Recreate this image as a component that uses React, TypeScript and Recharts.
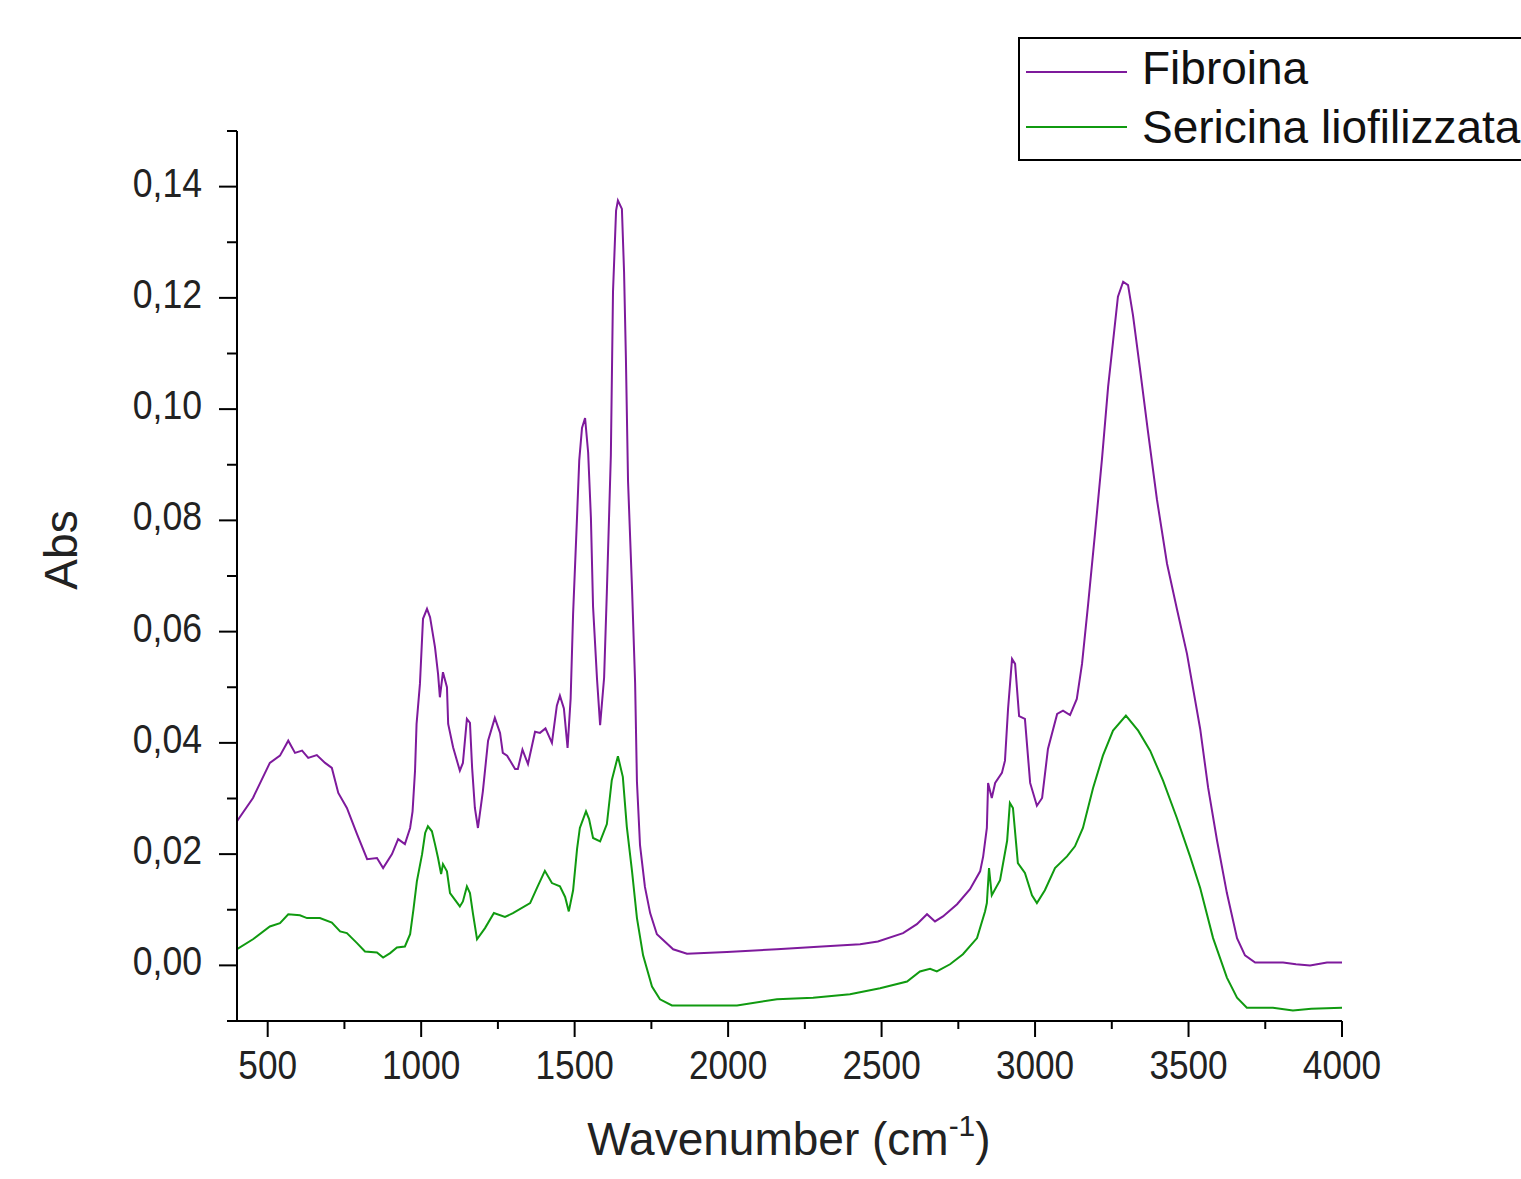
import React from 'react';
import { LineChart, Line, XAxis, YAxis, Legend } from 'recharts';

// FTIR spectra
const fibroinaX = [
  400, 452, 507, 540, 567, 589, 612, 632, 660, 687, 709, 730, 758, 791, 824, 856, 876, 905, 925, 947,
  964, 972, 980, 985, 996, 1006, 1019, 1029, 1045, 1055, 1061, 1071, 1084, 1088, 1104, 1126, 1136, 1149,
  1159, 1166, 1175, 1185, 1201, 1218, 1240, 1257, 1266, 1280, 1306, 1315, 1330, 1348, 1371, 1387, 1405,
  1426, 1442, 1452, 1465, 1477, 1487, 1495, 1507, 1515, 1524, 1534, 1544, 1553, 1560, 1573, 1583, 1596,
  1605, 1618, 1625, 1635, 1641, 1654, 1661, 1667, 1674, 1687, 1697, 1703, 1713, 1729, 1746, 1768, 1821,
  1866, 1996, 2159, 2306, 2430, 2488, 2570, 2615, 2648, 2674, 2700, 2746, 2788, 2821, 2831, 2843, 2847,
  2859, 2870, 2892, 2902, 2912, 2925, 2935, 2948, 2967, 2984, 3006, 3023, 3042, 3072, 3091, 3114, 3136,
  3153, 3173, 3195, 3218, 3238, 3254, 3270, 3287, 3303, 3319, 3342, 3368, 3397, 3430, 3462, 3495, 3515,
  3538, 3564, 3593, 3625, 3658, 3684, 3717, 3808, 3850, 3896, 3951, 4000,
];
const fibroinaY = [
  0.0259, 0.0301, 0.0364, 0.0377, 0.0404, 0.0382, 0.0386, 0.0373, 0.0378, 0.0364, 0.0355, 0.031, 0.0283,
  0.0236, 0.0191, 0.0193, 0.0175, 0.02, 0.0227, 0.0218, 0.0247, 0.0277, 0.035, 0.0434, 0.0506, 0.0623,
  0.0641, 0.0626, 0.0572, 0.0524, 0.0482, 0.0527, 0.05, 0.0434, 0.0392, 0.035, 0.0364, 0.0443, 0.0436,
  0.0355, 0.0283, 0.0247, 0.0313, 0.0404, 0.0445, 0.0418, 0.0382, 0.0377, 0.0353, 0.0353, 0.0388, 0.0362,
  0.042, 0.0418, 0.0426, 0.04, 0.0467, 0.0485, 0.0462, 0.0391, 0.048, 0.0632, 0.0795, 0.0908, 0.0966,
  0.0984, 0.0922, 0.0805, 0.0645, 0.0514, 0.0432, 0.0517, 0.0672, 0.0917, 0.1211, 0.1357, 0.1375, 0.136,
  0.1247, 0.1092, 0.087, 0.0677, 0.0508, 0.033, 0.0216, 0.0141, 0.0094, 0.0056, 0.0029, 0.0021, 0.0024,
  0.0029, 0.0034, 0.0038, 0.0043, 0.0058, 0.0074, 0.0092, 0.0079, 0.0088, 0.011, 0.0137, 0.0169, 0.0196,
  0.0247, 0.0328, 0.0301, 0.0328, 0.0346, 0.0368, 0.0461, 0.0551, 0.0542, 0.0448, 0.0443, 0.0328, 0.0287,
  0.0301, 0.0389, 0.0452, 0.0458, 0.045, 0.0479, 0.0542, 0.065, 0.0775, 0.091, 0.104, 0.1121, 0.1202,
  0.1229, 0.1223, 0.1169, 0.1072, 0.0959, 0.0838, 0.0722, 0.0641, 0.056, 0.0497, 0.0425, 0.0319, 0.0224,
  0.013, 0.0049, 0.0018, 0.0005, 0.0005, 0.0002, 0.0, 0.0005, 0.0005,
];

const sericinaX = [
  400, 452, 507, 540, 567, 605, 628, 670, 709, 736, 758, 791, 817, 856, 876, 899, 921, 947, 964, 975,
  986, 1003, 1013, 1022, 1035, 1045, 1055, 1065, 1071, 1084, 1094, 1126, 1136, 1149, 1159, 1169, 1182,
  1208, 1237, 1273, 1299, 1355, 1377, 1403, 1426, 1452, 1469, 1481, 1495, 1508, 1517, 1537, 1547, 1560,
  1583, 1605, 1621, 1641, 1657, 1670, 1687, 1703, 1723, 1752, 1778, 1817, 2029, 2159, 2277, 2397, 2495,
  2583, 2625, 2658, 2680, 2723, 2765, 2811, 2837, 2843, 2850, 2859, 2886, 2909, 2918, 2928, 2944, 2967,
  2990, 3006, 3032, 3065, 3104, 3130, 3156, 3189, 3221, 3254, 3296, 3336, 3375, 3417, 3462, 3505, 3538,
  3580, 3625, 3658, 3690, 3775, 3840, 3900, 4000,
];
const sericinaY = [
  0.0029, 0.0047, 0.007, 0.0076, 0.0092, 0.009, 0.0085, 0.0085, 0.0077, 0.0061, 0.0058, 0.004, 0.0025,
  0.0023, 0.0014, 0.0022, 0.0032, 0.0034, 0.0056, 0.0101, 0.0151, 0.02, 0.0238, 0.025, 0.0241, 0.0218,
  0.0193, 0.0164, 0.0182, 0.0169, 0.013, 0.0106, 0.0115, 0.0142, 0.013, 0.0092, 0.0047, 0.0067, 0.0094,
  0.0087, 0.0094, 0.0112, 0.0139, 0.017, 0.0148, 0.0142, 0.0123, 0.0097, 0.0135, 0.021, 0.0247, 0.0277,
  0.0263, 0.0229, 0.0223, 0.0254, 0.0333, 0.0376, 0.0339, 0.0249, 0.0169, 0.0085, 0.0018, -0.0038, -0.0061,
  -0.0072, -0.0072, -0.0061, -0.0058, -0.0052, -0.0041, -0.0029, -0.0011, -0.0006, -0.0011, 0.0002, 0.002,
  0.0049, 0.0097, 0.0112, 0.0175, 0.0126, 0.0153, 0.0224, 0.0292, 0.0283, 0.0184, 0.0166, 0.0126, 0.0112,
  0.0135, 0.0175, 0.0196, 0.0214, 0.0247, 0.0319, 0.0377, 0.0422, 0.0449, 0.0422, 0.0386, 0.0332, 0.0265,
  0.0196, 0.0139, 0.0049, -0.0022, -0.0058, -0.0076, -0.0076, -0.0081, -0.0078, -0.0076,
];

const xTicks = [500, 750, 1000, 1250, 1500, 1750, 2000, 2250, 2500, 2750, 3000, 3250, 3500, 3750, 4000];
const yTicks = [-0.01, 0, 0.01, 0.02, 0.03, 0.04, 0.05, 0.06, 0.07, 0.08, 0.09, 0.1, 0.11, 0.12, 0.13, 0.14, 0.15];

const fibroinaData = fibroinaX.map((x, i) => ({ x, y: fibroinaY[i] }));
const sericinaData = sericinaX.map((x, i) => ({ x, y: sericinaY[i] }));

const PURPLE = '#7e1a9c';
const GREEN = '#109a10';
const FONT = '"Liberation Sans", Arial, sans-serif';

const YTick = (props: any) => {
  const { x, y, payload } = props;
  const v = payload.value;
  const major = Math.round(v * 100) % 2 === 0 && v >= 0 && v <= 0.14;
  return (
    <g>
      <line x1={x - (major ? 18 : 10)} x2={x} y1={y} y2={y} stroke="#000" strokeWidth={2} />
      {major && (
        <text
          transform={`translate(${x - 35},${y + 10}) scale(0.89,1)`}
          textAnchor="end"
          fontFamily={FONT}
          fontSize={40}
          fill="#222"
        >
          {v.toFixed(2).replace('.', ',')}
        </text>
      )}
    </g>
  );
};

const XTick = (props: any) => {
  const { x, y, payload } = props;
  const v = payload.value;
  const major = v % 500 === 0;
  return (
    <g>
      <line x1={x} x2={x} y1={y} y2={y + (major ? 16 : 8)} stroke="#000" strokeWidth={2} />
      {major && (
        <text
          transform={`translate(${x},${y + 58}) scale(0.88,1)`}
          textAnchor="middle"
          fontFamily={FONT}
          fontSize={40}
          fill="#222"
        >
          {v}
        </text>
      )}
    </g>
  );
};

const lineRows = [35, 90];
const textRows = [47, 106];

const LegendBox = ({ payload }: any) => (
  <svg width={520} height={125} style={{ display: 'block' }}>
    <rect x={1} y={1} width={540} height={122} fill="#fff" stroke="#000" strokeWidth={2} />
    {(payload || []).map((p: any, i: number) => (
      <g key={p.value}>
        <line x1={8} x2={109} y1={lineRows[i]} y2={lineRows[i]} stroke={p.color} strokeWidth={2} />
        <text x={124} y={textRows[i]} fontFamily={FONT} fontSize={46} fill="#111">
          {p.value}
        </text>
      </g>
    ))}
  </svg>
);

export default function App() {
  return (
    <div style={{ position: 'absolute', left: 0, top: 0, width: 1521, height: 1179, overflow: 'hidden', background: '#fff' }}>
      <LineChart width={1521} height={1179} margin={{ top: 131, right: 179, left: 0, bottom: 0 }}>
        <XAxis
          type="number"
          dataKey="x"
          domain={[400, 4000]}
          ticks={xTicks}
          allowDataOverflow
          height={158}
          tickSize={0}
          tickMargin={0}
          tick={<XTick />}
          axisLine={{ stroke: '#000', strokeWidth: 2 }}
          tickLine={false}
          interval={0}
          label={() => (
            <text x={789} y={1155} textAnchor="middle" fontFamily={FONT} fontSize={46} fill="#222">
              Wavenumber (cm
              <tspan fontSize={30} dy={-19}>-1</tspan>
              <tspan dy={19}>)</tspan>
            </text>
          )}
        />
        <YAxis
          type="number"
          domain={[-0.01, 0.15]}
          ticks={yTicks}
          allowDataOverflow
          width={237}
          tickSize={0}
          tickMargin={0}
          tick={<YTick />}
          axisLine={{ stroke: '#000', strokeWidth: 2 }}
          tickLine={false}
          interval={0}
          label={() => (
            <text transform="translate(77,550) rotate(-90)" textAnchor="middle" fontFamily={FONT} fontSize={46} fill="#222">
              Abs
            </text>
          )}
        />
        <Legend
          layout="vertical"
          align="center"
          verticalAlign="middle"
          content={<LegendBox />}
          wrapperStyle={{ left: 1018, top: 37, width: 520, height: 125 }}
        />
        <Line
          data={fibroinaData}
          dataKey="y"
          name="Fibroina"
          type="linear"
          stroke={PURPLE}
          strokeWidth={2}
          dot={false}
          isAnimationActive={false}
        />
        <Line
          data={sericinaData}
          dataKey="y"
          name="Sericina liofilizzata"
          type="linear"
          stroke={GREEN}
          strokeWidth={2}
          dot={false}
          isAnimationActive={false}
        />
      </LineChart>
    </div>
  );
}
